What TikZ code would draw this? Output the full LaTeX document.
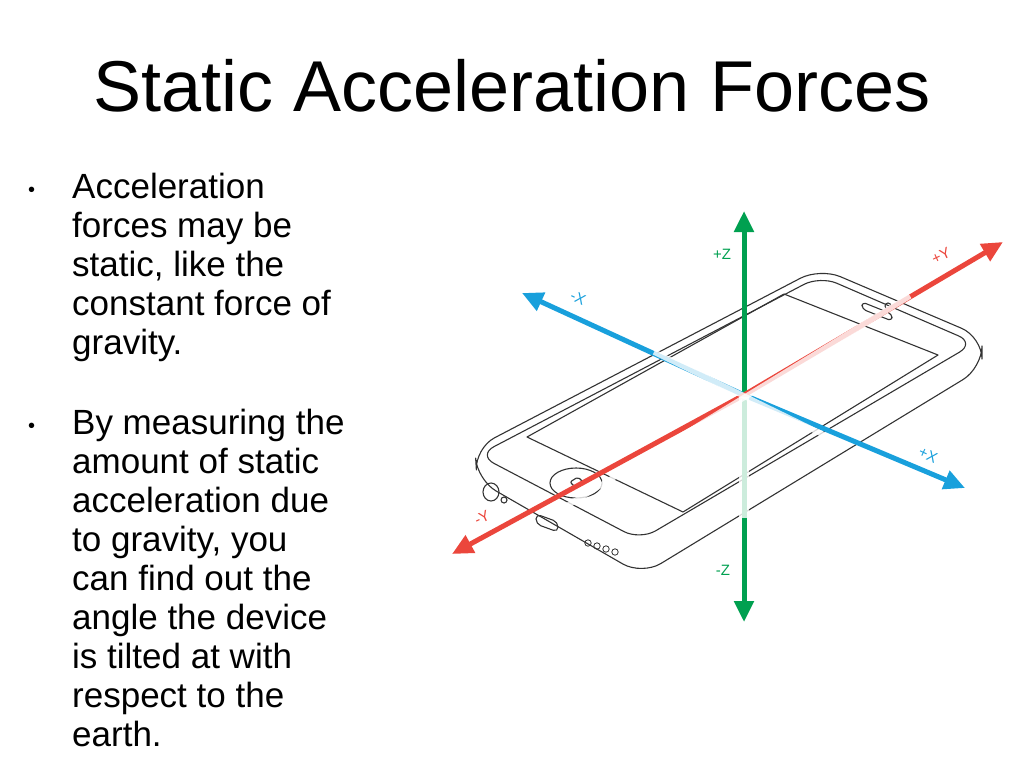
\documentclass[tikz,border=0pt]{standalone}
\usepackage{fontspec}
\usetikzlibrary{arrows.meta}
\setmainfont{Liberation Sans}
\begin{document}
\begin{tikzpicture}[x=1pt,y=-1pt,
  ph/.style={draw=black!80,line width=1.1pt,line join=round},
  ax/.style={line width=5pt,-{Triangle[width=19pt,length=21pt]}},
  lab/.style={font=\fontsize{15}{15}\selectfont},
  bul/.style={anchor=north west,align=left,font=\fontsize{35}{39}\selectfont,inner sep=0pt}]
\useasboundingbox (0,0) rectangle (1024,768);
\definecolor{gz}{RGB}{0,160,80}\definecolor{bx}{RGB}{25,160,220}\definecolor{ry}{RGB}{235,70,60}
\node[anchor=base,font=\fontsize{72}{72}\selectfont,inner sep=0pt] (title) at (512,111) {Static Acceleration Forces};
\node[anchor=base west,inner sep=0pt,font=\fontsize{20}{20}\selectfont] (b1) at (28,196) {•};
\node[bul] (t1) at (72,172.5) {Acceleration\\forces may be\\static, like the\\constant force of\\gravity.};
\node[anchor=base west,inner sep=0pt,font=\fontsize{20}{20}\selectfont] (b2) at (28,432) {•};
\node[bul] (t2) at (72,408.5) {By measuring the\\amount of static\\acceleration due\\to gravity, you\\can find out the\\angle the device\\is tilted at with\\respect to the\\earth.};
% phone
\coordinate (L) at (475,448); \coordinate (T) at (820,268); \coordinate (R) at (982,337); \coordinate (B) at (640,545);
\coordinate (L2) at (477,480); \coordinate (R2) at (982,368); \coordinate (B2) at (642,575);
\draw[ph,rounded corners=22pt] (L) -- (T) -- (R) -- (R2) -- (B2) -- (L2) -- cycle;
\draw[ph,rounded corners=18pt] (478,455) -- (820,276) -- (975,343) -- (640,540) -- cycle;
\draw[ph] (527,437) -- (784,294) -- (938,355) -- (683,512) -- cycle;
\draw[ph] (576,483) ellipse (26pt and 15pt);
\draw[ph,rounded corners=2pt] (570,482) -- (578,477) -- (584,483) -- (576,488) -- cycle;
\draw[ph] (491,492) ellipse (8pt and 9pt);
\draw[ph] (504,500) circle (3pt);
\draw[ph,rounded corners=5pt] (536,514) -- (558,522) -- (558,532) -- (536,524) -- cycle;
\foreach \i in {0,1,2,3} \draw[ph,line width=0.8pt] (588+9*\i,543+3*\i) circle (3.2pt);
\draw[ph,rounded corners=4pt] (862,302) -- (892,314) -- (892,321) -- (862,309) -- cycle;
\draw[ph] (888,306) circle (3pt);
% axes
\coordinate (O) at (744,395);
\coordinate (zp) at (744,211); \coordinate (zm) at (744,622);
\coordinate (xm) at (522,293); \coordinate (xp) at (965,488);
\coordinate (yp) at (1003,242); \coordinate (ym) at (452,554);
\draw[ax,gz] (O) -- (zp); \draw[ax,gz] (O) -- (zm);
\draw[ax,bx] (O) -- (xm); \draw[ax,bx] (O) -- (xp);
\draw[ax,ry] (O) -- (yp); \draw[ax,ry] (O) -- (ym);
\draw[line width=5.5pt,white,opacity=0.8] (742,397) -- (742,518) (746,397)--(746,518);
\draw[line width=5.5pt,white,opacity=0.8] (654,352) -- (834,440);
\draw[line width=5.5pt,white,opacity=0.8] (552,515) -- (910,296);
\node[lab,gz] (lzp) at (722,254) {+Z};
\node[lab,gz] (lzm) at (723,570) {-Z};
\node[lab,bx,rotate=-25] (lxm) at (578,298) {-X};
\node[lab,bx,rotate=-25] (lxp) at (928,455) {+X};
\node[lab,ry,rotate=25] (lyp) at (941,256) {+Y};
\node[lab,ry,rotate=25] (lym) at (482,518) {-Y};
\end{tikzpicture}
\end{document}
